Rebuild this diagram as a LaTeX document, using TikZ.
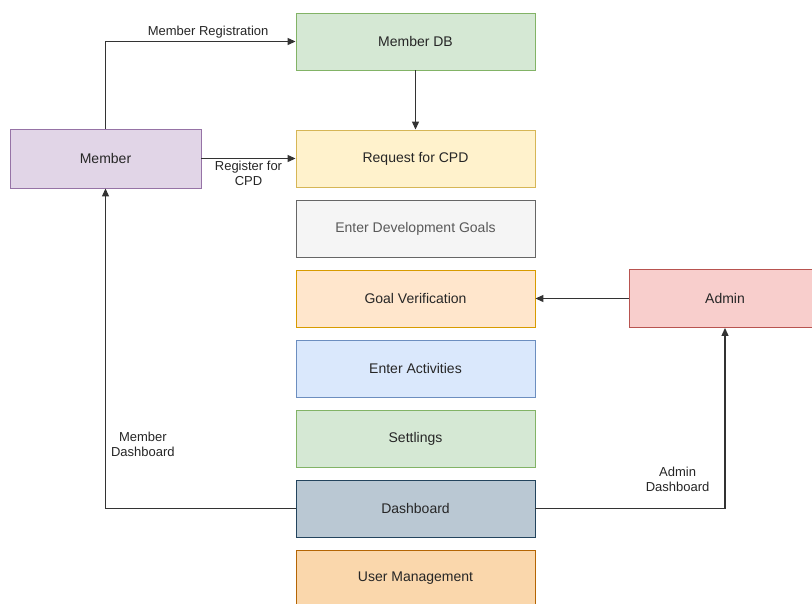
\documentclass[tikz,border=0pt]{standalone}
\usepackage{fontspec}
\setmainfont{Liberation Sans}
\usepackage{tikz}
\usetikzlibrary{positioning,arrows.meta}

\definecolor{greenfill}{HTML}{D5E8D4}\definecolor{greenline}{HTML}{82B366}
\definecolor{yellowfill}{HTML}{FFF2CC}\definecolor{yellowline}{HTML}{D6B656}
\definecolor{grayfill}{HTML}{F5F5F5}\definecolor{grayline}{HTML}{666666}
\definecolor{orangefill}{HTML}{FFE6CC}\definecolor{orangeline}{HTML}{D79B00}
\definecolor{bluefill}{HTML}{DAE8FC}\definecolor{blueline}{HTML}{6C8EBF}
\definecolor{slatefill}{HTML}{BAC8D3}\definecolor{slateline}{HTML}{23445D}
\definecolor{tanfill}{HTML}{FAD7AC}\definecolor{tanline}{HTML}{B46504}
\definecolor{purplefill}{HTML}{E1D5E7}\definecolor{purpleline}{HTML}{9673A6}
\definecolor{redfill}{HTML}{F8CECC}\definecolor{redline}{HTML}{B85450}
\definecolor{wire}{HTML}{333333}

\begin{document}
\begin{tikzpicture}[
        x=1pt, y=-1pt,
        module/.style={draw, line width=0.9pt, minimum width=239pt, minimum height=57pt,
            inner sep=0pt, text=black!85, font=\fontsize{14}{16}\selectfont},
        actor/.style={module, minimum height=59pt},
        flow/.style={draw=wire, line width=1.2pt, -{Triangle[length=8pt,width=7pt]}},
        tag/.style={text=black!85, font=\fontsize{13}{15}\selectfont, align=center, inner sep=3pt},
        node distance=12.1pt
    ]
    \useasboundingbox[fill=white] (0,0) rectangle (812,603);

    % Middle column: system modules
    \node[module, fill=greenfill, draw=greenline] (memberdb) at (415.5,41.5) {Member DB};
    \node[module, fill=yellowfill, draw=yellowline] (request) at (415.5,158.5) {Request for CPD};
    \node[module, fill=grayfill, draw=grayline, text=black!65, below=of request] (devgoals) {Enter Development Goals};
    \node[module, fill=orangefill, draw=orangeline, below=of devgoals] (goalverif) {Goal Verification};
    \node[module, fill=bluefill, draw=blueline, below=of goalverif] (activities) {Enter Activities};
    \node[module, fill=greenfill, draw=greenline, below=of activities] (settings) {Settlings};
    \node[module, fill=slatefill, draw=slateline, below=of settings] (dashboard) {Dashboard};
    \node[module, fill=tanfill, draw=tanline, below=of dashboard] (usermgmt) {User Management};

    % Actors
    \node[actor, minimum width=191pt, fill=purplefill, draw=purpleline] (member) at (105.5,158.5) {Member};
    \node[actor, minimum width=192pt, minimum height=58pt, fill=redfill, draw=redline] (admin) at (725,298.5) {Admin};

    % Member side
    \draw[flow] (member.north) |- node[tag, pos=0.77, above] {Member Registration} (memberdb.west);
    \draw[flow] (member.east) -- node[tag, below, inner sep=2pt] {Register for\\CPD} (request.west);
    \draw[flow] (memberdb.south) -- (request.north);
    \draw[flow] (dashboard.west) -| node[tag, pos=0.6, right=2pt] {Member\\Dashboard} (member.south);

    % Admin side
    \draw[flow] (admin.west) -- (goalverif.east |- admin.west);
    \draw[flow] (dashboard.east) -| node[tag, pos=0.58, left=12pt] {Admin\\Dashboard} (admin.south);

\end{tikzpicture}
\end{document}
